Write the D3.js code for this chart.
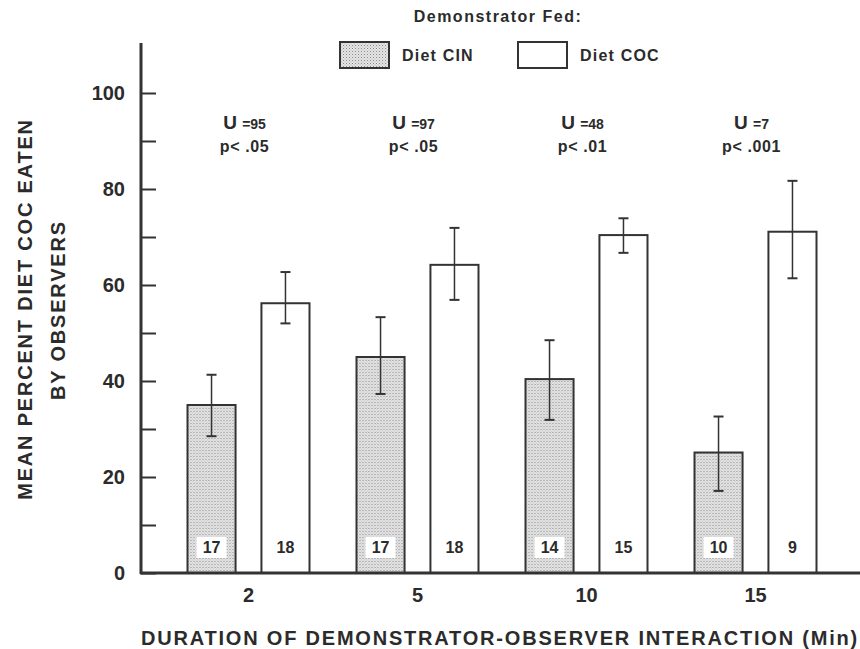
<!DOCTYPE html>
<meta charset="utf-8">
<title>demonstrator fed</title>
<style>
body { margin: 0; background: #fff; }
text { font-family: "Liberation Sans", Arial, sans-serif; font-weight: bold; fill: #2b2b2b; }
.axis path { display: none; }
.axis line { stroke: #333; stroke-width: 2px; }
.title { font-size: 20px; letter-spacing: 1.8px; }
</style>
<body>
<script src="https://cdn.jsdelivr.net/npm/d3@7"></script>
<script>

var width = 860,
    height = 649;

// minutes of demonstrator-observer interaction
var durations = ["2", "5", "10", "15"];
var diets = ["CIN", "COC"];
var dietNames = ["Diet CIN", "Diet COC"];

// mean percent diet COC eaten, with error bar ends, and n per bar
var meanCIN = [35, 45, 40.4, 25.1],
    lowCIN  = [28.5, 37.3, 31.9, 17.1],
    highCIN = [41.3, 53.3, 48.5, 32.6];
var meanCOC = [56.2, 64.2, 70.4, 71.1],
    lowCOC  = [52, 56.9, 66.7, 61.4],
    highCOC = [62.7, 71.9, 73.9, 81.7];
var nCIN = [17, 17, 14, 10],
    nCOC = [18, 18, 15, 9];

var uStats = ["=95", "=97", "=48", "=7"],
    pStats = ["p< .05", "p< .05", "p< .01", "p< .001"];

var yTicks = d3.range(0, 101, 10);

var rows = [];
durations.forEach(function(d, i) {
  rows.push({dur: d, diet: "CIN", mean: meanCIN[i], lo: lowCIN[i], hi: highCIN[i], n: nCIN[i]});
  rows.push({dur: d, diet: "COC", mean: meanCOC[i], lo: lowCOC[i], hi: highCOC[i], n: nCOC[i]});
});

var svg = d3.select("body").append("svg")
    .attr("width", width)
    .attr("height", height);

// stipple for the CIN bars
var pat = svg.append("defs").append("pattern")
    .attr("id", "stipple")
    .attr("width", 3)
    .attr("height", 3)
    .attr("patternUnits", "userSpaceOnUse");
pat.append("rect").attr("width", 3).attr("height", 3).attr("fill", "#e6e6e6");
pat.append("rect").attr("width", 1).attr("height", 1).attr("fill", "#888");
pat.append("rect").attr("x", 1.5).attr("y", 1.5).attr("width", 1).attr("height", 1).attr("fill", "#aaa");

var x0 = d3.scaleBand()
    .domain(durations)
    .range([164, 840]);

var x1 = d3.scaleBand()
    .domain(diets)
    .range([23.5, 145.5])
    .paddingInner(0.35);

var y = d3.scaleLinear()
    .domain([0, 100])
    .range([573, 93]);

function fillFor(d) { return d.diet == "CIN" ? "url(#stipple)" : "#fff"; }

// bars
var bar = svg.selectAll("g.bar")
    .data(rows)
  .enter().append("g")
    .attr("class", "bar")
    .attr("transform", function(d) { return "translate(" + (x0(d.dur) + x1(d.diet)) + ",0)"; });

bar.append("rect")
    .attr("y", function(d) { return y(d.mean); })
    .attr("width", x1.bandwidth())
    .attr("height", function(d) { return y(0) - y(d.mean); })
    .attr("fill", fillFor)
    .attr("stroke", "#333")
    .attr("stroke-width", 2);

// error bars
var cx = x1.bandwidth() / 2;
bar.append("line")
    .attr("x1", cx).attr("x2", cx)
    .attr("y1", function(d) { return y(d.hi); })
    .attr("y2", function(d) { return y(d.lo); })
    .attr("stroke", "#333").attr("stroke-width", 1.5);
bar.append("line")
    .attr("x1", cx - 5).attr("x2", cx + 5)
    .attr("y1", function(d) { return y(d.hi); })
    .attr("y2", function(d) { return y(d.hi); })
    .attr("stroke", "#333").attr("stroke-width", 2);
bar.append("line")
    .attr("x1", cx - 5).attr("x2", cx + 5)
    .attr("y1", function(d) { return y(d.lo); })
    .attr("y2", function(d) { return y(d.lo); })
    .attr("stroke", "#333").attr("stroke-width", 2);

// n labels near the base
bar.filter(function(d) { return d.diet == "CIN"; })
  .append("rect")
    .attr("x", cx - 15)
    .attr("y", y(0) - 36)
    .attr("width", 30)
    .attr("height", 21)
    .attr("fill", "#fff");
bar.append("text")
    .attr("x", cx)
    .attr("y", y(0) - 20)
    .attr("text-anchor", "middle")
    .style("font-size", "16px")
    .text(function(d) { return d.n; });

// y axis
var yAxis = d3.axisRight(y)
    .tickValues(yTicks)
    .tickSize(15)
    .tickFormat("");
svg.append("g")
    .attr("class", "axis")
    .attr("transform", "translate(141,0)")
    .call(yAxis);

svg.selectAll("text.ytick")
    .data(yTicks.filter(function(t) { return t % 20 == 0; }))
  .enter().append("text")
    .attr("class", "ytick")
    .attr("x", 125)
    .attr("y", function(t) { return y(t); })
    .attr("dy", "0.36em")
    .attr("text-anchor", "end")
    .style("font-size", "20px")
    .text(function(t) { return t; });

svg.append("line")
    .attr("x1", 141).attr("x2", 141)
    .attr("y1", 43).attr("y2", y(0) + 1)
    .attr("stroke", "#333").attr("stroke-width", 3);
svg.append("line")
    .attr("x1", 140).attr("x2", 860)
    .attr("y1", y(0)).attr("y2", y(0))
    .attr("stroke", "#333").attr("stroke-width", 3);

// x tick labels
svg.selectAll("text.xtick")
    .data(durations)
  .enter().append("text")
    .attr("class", "xtick")
    .attr("x", function(d) { return x0(d) + x0.bandwidth() / 2; })
    .attr("y", 602)
    .attr("text-anchor", "middle")
    .style("font-size", "20px")
    .text(function(d) { return d; });

// stats above each group
var stat = svg.selectAll("g.stat")
    .data(durations)
  .enter().append("g")
    .attr("class", "stat")
    .attr("transform", function(d) { return "translate(" + (x0(d) + x0.bandwidth() / 2 - 4) + ",0)"; });

var uText = stat.append("text")
    .attr("y", 129)
    .attr("text-anchor", "middle")
    .style("font-size", "14px");
uText.append("tspan").style("font-size", "19px").text("U ");
uText.append("tspan").text(function(d, i) { return uStats[i]; });

stat.append("text")
    .attr("y", 152)
    .attr("text-anchor", "middle")
    .style("font-size", "16px")
    .style("letter-spacing", "0.6px")
    .text(function(d, i) { return pStats[i]; });

// axis titles
svg.append("text")
    .attr("class", "title")
    .attr("x", 500)
    .attr("y", 645)
    .attr("text-anchor", "middle")
    .text("DURATION OF DEMONSTRATOR-OBSERVER INTERACTION (Min)");

svg.append("text")
    .attr("class", "title")
    .attr("transform", "translate(32,309)rotate(-90)")
    .attr("text-anchor", "middle")
    .text("MEAN PERCENT DIET COC EATEN");
svg.append("text")
    .attr("class", "title")
    .attr("transform", "translate(65,310)rotate(-90)")
    .attr("text-anchor", "middle")
    .text("BY OBSERVERS");

// legend
svg.append("text")
    .attr("x", 498)
    .attr("y", 22)
    .attr("text-anchor", "middle")
    .style("font-size", "16px")
    .style("letter-spacing", "1.5px")
    .text("Demonstrator Fed:");

var legX = [340, 518];
var leg = svg.selectAll("g.legend")
    .data(diets)
  .enter().append("g")
    .attr("class", "legend")
    .attr("transform", function(d, i) { return "translate(" + legX[i] + ",42)"; });
leg.append("rect")
    .attr("width", 49)
    .attr("height", 26)
    .attr("fill", function(d) { return d == "CIN" ? "url(#stipple)" : "#fff"; })
    .attr("stroke", "#333")
    .attr("stroke-width", 2);
leg.append("text")
    .attr("x", 62)
    .attr("y", 19)
    .style("font-size", "16px")
    .style("letter-spacing", "1.2px")
    .text(function(d, i) { return dietNames[i]; });

</script>
</body>
